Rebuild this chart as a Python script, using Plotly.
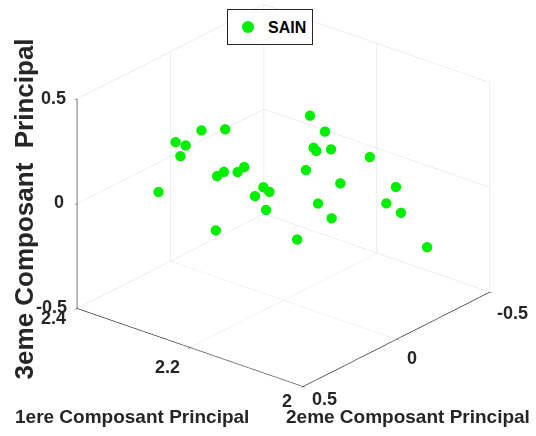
import plotly.graph_objects as go

# Data (1ere, 2eme, 3eme composantes principales) - classe SAIN
pc1 = [2.1745, 2.1599, 2.2796, 2.2566, 2.3046, 2.2949, 2.3000, 2.1710, 2.1684, 2.1541,
       2.1165, 2.1784, 2.1450, 2.2382, 2.2446, 2.2579, 2.2644, 2.3212, 2.2196, 2.2138,
       2.2277, 2.2170, 2.0912, 2.1005, 2.0863, 2.1667, 2.1535, 2.2657, 2.1869, 2.0610]
pc2 = [-0.0637, -0.1002, 0.1990, 0.1416, 0.2616, 0.2372, 0.2500, -0.0725, -0.0790, -0.1148,
       -0.2088, -0.0540, -0.1375, 0.0954, 0.1114, 0.1448, 0.1611, 0.3029, 0.0491, 0.0345,
       0.0693, 0.0426, -0.2720, -0.2487, -0.2842, -0.0832, -0.1163, 0.1642, -0.0328, -0.3474]
pc3 = [0.377, 0.298, 0.327, 0.328, 0.276, 0.258, 0.208, 0.223, 0.207, 0.212,
       0.168, 0.118, 0.048, 0.144, 0.121, 0.125, 0.106, 0.041, 0.044, 0.021,
       0.003, -0.065, 0.020, -0.056, -0.104, -0.044, -0.117, -0.153, -0.212, -0.273]

x_ticks = [2, 2.2, 2.4]
x_ticklabels = ["2", "2.2", "2.4"]
y_ticks = [-0.5, 0, 0.5]
y_ticklabels = ["-0.5", "0", "0.5"]
z_ticks = [-0.5, 0, 0.5]
z_ticklabels = ["-0.5", "0", "0.5"]

FONT = "Liberation Sans, Arial, sans-serif"
TXT = "#262626"

fig = go.Figure()
fig.add_trace(go.Scatter3d(
    x=pc1, y=pc2, z=pc3, mode="markers", name="<b>SAIN</b>",
    marker=dict(size=6, color="#00ee00", line=dict(width=0)),
    hoverinfo="skip",
))

axis_common = dict(
    showbackground=False, gridcolor="#dcdcdc", gridwidth=1,
    showline=True, linecolor=TXT, linewidth=1.5,
    zeroline=False, ticks="outside", ticklen=3, tickcolor=TXT,
    showspikes=False, title=dict(text=""), showticklabels=False,
)

# tick-label placement (paper fractions) for the fixed MATLAB-like view
x_lab_pos = [(0.535, 0.080, "center"), (0.312, 0.158, "center"), (0.127, 0.271, "right")]
y_lab_pos = [(0.957, 0.282, "center"), (0.769, 0.179, "center"), (0.606, 0.085, "center")]
z_lab_pos = [(0.128, 0.296, "right"), (0.124, 0.537, "right"), (0.126, 0.775, "right")]

annotations = []
for labels, poss in ((x_ticklabels, x_lab_pos), (y_ticklabels, y_lab_pos), (z_ticklabels, z_lab_pos)):
    for lab, (px, py, anc) in zip(labels, poss):
        annotations.append(dict(text="<b>%s</b>" % lab, x=px, y=py, xref="paper", yref="paper",
                                xanchor=anc, yanchor="middle", showarrow=False,
                                font=dict(family=FONT, size=18, color=TXT)))

annotations += [
    dict(text="<b>1ere Composant Principal</b>", x=0.024, y=0.044, xref="paper", yref="paper",
         xanchor="left", yanchor="middle", showarrow=False,
         font=dict(family=FONT, size=19, color=TXT)),
    dict(text="<b>2eme Composant Principal</b>", x=0.992, y=0.044, xref="paper", yref="paper",
         xanchor="right", yanchor="middle", showarrow=False,
         font=dict(family=FONT, size=19, color=TXT)),
    dict(text="<b>3eme Composant  Principal</b>", x=0.045, y=0.52, xref="paper", yref="paper",
         xanchor="center", yanchor="middle", showarrow=False, textangle=-90,
         font=dict(family=FONT, size=26, color=TXT)),
]

fig.update_layout(
    width=536, height=436,
    margin=dict(l=0, r=0, t=0, b=0),
    paper_bgcolor="white",
    showlegend=True,
    legend=dict(x=0.4235, y=0.979, xanchor="left", yanchor="top",
                bordercolor=TXT, borderwidth=1, bgcolor="white",
                font=dict(family=FONT, size=16, color="black"),
                itemsizing="constant"),
    scene=dict(
        domain=dict(x=[0.058, 1.0], y=[0.103, 1.0]),
        xaxis=dict(axis_common, range=[2, 2.4], tickvals=x_ticks),
        yaxis=dict(axis_common, range=[-0.5, 0.5], tickvals=y_ticks),
        zaxis=dict(axis_common, range=[-0.5, 0.5], tickvals=z_ticks),
        aspectmode="manual", aspectratio=dict(x=1.5, y=1.5, z=1.18),
        camera=dict(eye=dict(x=-1.48, y=1.79, z=1.07), up=dict(x=0, y=0, z=1),
                    center=dict(x=0, y=0, z=0),
                    projection=dict(type="orthographic")),
        bgcolor="white",
    ),
    annotations=annotations,
)

fig.write_html("out.html")
